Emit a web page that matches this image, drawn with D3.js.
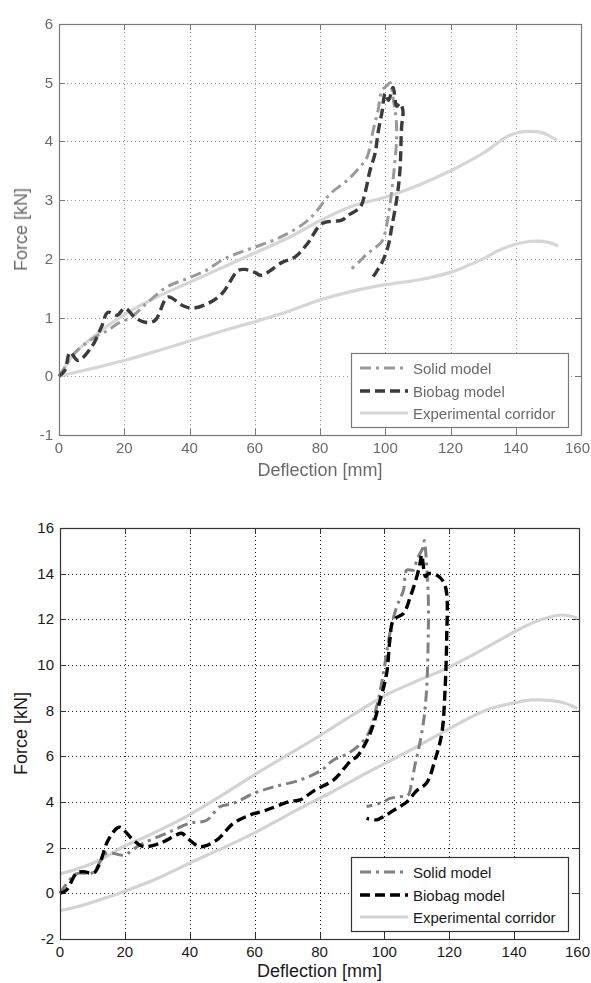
<!DOCTYPE html>
<html>
<head>
<meta charset="utf-8">
<script src="https://cdnjs.cloudflare.com/ajax/libs/d3/7.8.5/d3.min.js"></script>
<style>
  html, body { margin: 0; padding: 0; background: #fff; }
  svg { display: block; font-family: "Liberation Sans", Arial, sans-serif; }
</style>
</head>
<body>
<div id="chart"></div>
<script>
// ---------------- data ----------------
const xTicks = [0, 20, 40, 60, 80, 100, 120, 140, 160];
const topYTicks = [-1, 0, 1, 2, 3, 4, 5, 6];
const bottomYTicks = [-2, 0, 2, 4, 6, 8, 10, 12, 14, 16];
const legendLabels = ['Solid model', 'Biobag model', 'Experimental corridor'];

// top panel
const topSolidX = [0, 1.8, 4, 8, 12, 15, 18, 22, 27, 33, 39.5, 45, 50, 55, 60, 65, 70, 75, 78.5, 83, 88.6, 92, 94.4, 96.3, 97.8, 99, 100.5, 101.5, 102.5, 103.3, 103.5, 103, 102.3, 101.5, 100.5, 99, 96, 94.7, 92, 89];
const topSolidF = [0, 0.15, 0.35, 0.55, 0.7, 0.78, 0.9, 1.0, 1.25, 1.52, 1.67, 1.8, 1.98, 2.1, 2.2, 2.3, 2.43, 2.6, 2.78, 3.1, 3.35, 3.55, 3.73, 4.19, 4.53, 4.87, 4.95, 5.0, 4.7, 4.4, 4.07, 3.68, 3.3, 2.95, 2.6, 2.3, 2.15, 2.1, 1.95, 1.8];
const topBiobagX = [0, 1.8, 3.4, 5.8, 10, 13, 15, 17.8, 20.2, 23.3, 26.4, 29.4, 33.4, 37.7, 40.8, 45.7, 50, 54.9, 57, 60, 62, 68.4, 72.3, 76.3, 80.6, 86.7, 88.6, 92.3, 93.8, 95.3, 96.9, 97.8, 99, 100, 101, 102.4, 103.5, 104.5, 105.4, 105, 104.5, 103.6, 102, 100.8, 99, 96];
const topBiobagF = [0, 0.1, 0.41, 0.27, 0.5, 0.84, 1.09, 1.04, 1.16, 1.0, 0.92, 0.95, 1.35, 1.21, 1.16, 1.24, 1.41, 1.8, 1.82, 1.77, 1.72, 1.94, 2.03, 2.27, 2.6, 2.66, 2.74, 2.88, 3.12, 3.5, 3.8, 4.15, 4.5, 4.82, 4.7, 4.92, 4.6, 4.65, 4.53, 4.24, 3.5, 3.05, 2.54, 2.2, 1.94, 1.67];
const topUpperX = [0, 5, 10, 20, 30, 40, 50, 60, 70, 80, 90, 100, 110, 120, 130, 138, 143.5, 148, 152.6];
const topUpperF = [0, 0.4, 0.65, 1.05, 1.35, 1.6, 1.85, 2.1, 2.35, 2.65, 2.9, 3.05, 3.25, 3.5, 3.8, 4.1, 4.17, 4.15, 4.02];
const topLowerX = [0, 10, 20, 30, 40, 50, 60, 70, 80, 90, 100, 110, 120, 125, 130, 135, 140, 145, 150, 153];
const topLowerF = [0, 0.13, 0.27, 0.43, 0.6, 0.77, 0.93, 1.1, 1.3, 1.45, 1.56, 1.64, 1.77, 1.88, 2.0, 2.15, 2.25, 2.3, 2.28, 2.22];

// bottom panel
const botSolidX = [0, 5, 10, 14.4, 19.7, 24.7, 32.9, 40, 45.2, 49.3, 53.4, 59.8, 65.8, 74, 80.7, 84.3, 88.9, 94.5, 97.6, 99.7, 101.7, 103.8, 105.9, 106.9, 109, 110, 112, 112.3, 113.5, 113.5, 113, 112, 110.5, 109.4, 108.4, 107.3, 104.8, 101.7, 99.7, 94.5];
const botSolidF = [0, 0.85, 0.9, 1.76, 1.68, 2.12, 2.63, 3.07, 3.2, 3.79, 3.94, 4.38, 4.66, 4.96, 5.4, 5.84, 6.13, 6.86, 8.17, 9.64, 11.39, 12.55, 13.28, 14.16, 14.16, 14.6, 15.18, 15.45, 13.14, 11.1, 8.9, 7.45, 6.28, 5.6, 4.83, 4.3, 4.23, 4.16, 4.0, 3.8];
const botBiobagX = [0, 2, 5.1, 7.2, 10.3, 12.3, 14.4, 16, 17.5, 18.5, 19.7, 22.6, 25.7, 30.8, 35.9, 37.5, 40, 43.2, 48.3, 53.4, 58.6, 63.7, 70.9, 74, 78.6, 84.3, 89.9, 91.5, 95.6, 98.7, 100.7, 101.7, 102.8, 105.9, 108, 110, 111, 111.5, 112.7, 113.6, 116.1, 118.2, 119.2, 119.2, 118.7, 117.7, 115.6, 113, 110, 106.9, 103.8, 100.2, 97.6, 94.5];
const botBiobagF = [0, 0.15, 0.88, 0.95, 0.88, 1.33, 2.2, 2.6, 2.85, 2.9, 2.77, 2.33, 2.05, 2.19, 2.56, 2.63, 2.33, 2.04, 2.33, 3.06, 3.43, 3.65, 4.02, 4.09, 4.52, 4.96, 5.84, 5.98, 7.0, 8.47, 9.63, 11.1, 11.97, 12.26, 12.99, 13.87, 14.45, 14.82, 13.87, 14.0, 13.94, 13.65, 13.14, 11.1, 8.9, 7.0, 5.84, 4.83, 4.5, 4.0, 3.72, 3.4, 3.22, 3.28];
const botUpperX = [0, 5, 12.3, 19.7, 26, 32.9, 40, 50, 60, 70, 80, 91, 100, 110, 119.2, 128, 135.6, 142, 148, 155, 159.5];
const botUpperF = [0.85, 1.05, 1.46, 2.05, 2.45, 2.92, 3.45, 4.3, 5.2, 6.05, 6.9, 7.88, 8.65, 9.3, 9.85, 10.5, 11.1, 11.6, 11.97, 12.19, 12.05];
const botLowerX = [0, 5, 12.3, 19.7, 30, 40, 50, 59.8, 74, 84, 94.5, 110, 119.2, 131.5, 139.7, 145.8, 154, 159.5];
const botLowerF = [-0.75, -0.6, -0.28, 0.08, 0.65, 1.33, 1.97, 2.64, 3.72, 4.45, 5.27, 6.42, 7.15, 8.03, 8.33, 8.47, 8.39, 8.1];

// ---------------- layout ----------------
const W = 591, H = 983;
const svg = d3.select('#chart').append('svg').attr('width', W).attr('height', H);

const defs = svg.append('defs');
defs.append('filter').attr('id', 'soft')
  .attr('x', '-5%').attr('y', '-5%').attr('width', '110%').attr('height', '110%')
  .append('feGaussianBlur').attr('stdDeviation', 0.6);

function zip(xs, ys){ return xs.map((x, i) => [x, ys[i]]); }

function drawPanel(cfg){
  const g = svg.append('g');
  if (cfg.blur) g.attr('filter', 'url(#soft)');

  const x = d3.scaleLinear().domain([0, 160]).range([cfg.left, cfg.right]);
  const y = d3.scaleLinear().domain(cfg.yDomain).range([cfg.bottom, cfg.top]);

  // background
  g.append('rect')
    .attr('x', cfg.left).attr('y', cfg.top)
    .attr('width', cfg.right - cfg.left).attr('height', cfg.bottom - cfg.top)
    .attr('fill', '#fff');

  // grid
  const grid = g.append('g').attr('stroke', cfg.gridColor).attr('stroke-width', 1).attr('stroke-dasharray', '1,3');
  grid.selectAll('.gx').data(xTicks.slice(1, -1)).enter().append('line')
    .attr('x1', d => Math.round(x(d)) + 0.5).attr('x2', d => Math.round(x(d)) + 0.5)
    .attr('y1', cfg.top).attr('y2', cfg.bottom);
  grid.selectAll('.gy').data(cfg.yTicks.slice(1, -1)).enter().append('line')
    .attr('y1', d => Math.round(y(d)) + 0.5).attr('y2', d => Math.round(y(d)) + 0.5)
    .attr('x1', cfg.left).attr('x2', cfg.right);

  // inward ticks on all four sides (matlab box)
  const ticks = g.append('g').attr('stroke', cfg.axisColor).attr('stroke-width', 1);
  xTicks.forEach(d => {
    const px = Math.round(x(d)) + 0.5;
    ticks.append('line').attr('x1', px).attr('x2', px).attr('y1', cfg.bottom).attr('y2', cfg.bottom - 6);
    ticks.append('line').attr('x1', px).attr('x2', px).attr('y1', cfg.top).attr('y2', cfg.top + 6);
  });
  cfg.yTicks.forEach(d => {
    const py = Math.round(y(d)) + 0.5;
    ticks.append('line').attr('y1', py).attr('y2', py).attr('x1', cfg.left).attr('x2', cfg.left + 6);
    ticks.append('line').attr('y1', py).attr('y2', py).attr('x1', cfg.right).attr('x2', cfg.right - 6);
  });

  // tick labels (last one kept inside the page)
  g.append('g').selectAll('text').data(xTicks).enter().append('text')
    .attr('x', d => d === 160 ? W - 1 : x(d)).attr('y', cfg.bottom + 18)
    .attr('text-anchor', d => d === 160 ? 'end' : 'middle')
    .attr('font-size', 15).attr('fill', cfg.textColor)
    .text(d => d);
  g.append('g').selectAll('text').data(cfg.yTicks).enter().append('text')
    .attr('x', cfg.left - 6).attr('y', d => y(d) + 5)
    .attr('text-anchor', 'end').attr('font-size', 15).attr('fill', cfg.textColor)
    .text(d => d);

  // axis titles
  g.append('text')
    .attr('x', (cfg.left + cfg.right) / 2).attr('y', cfg.bottom + cfg.xTitleGap)
    .attr('text-anchor', 'middle').attr('font-size', 18).attr('fill', cfg.textColor)
    .text('Deflection [mm]');
  g.append('text')
    .attr('transform', 'translate(27,' + ((cfg.top + cfg.bottom) / 2) + ') rotate(-90)')
    .attr('text-anchor', 'middle').attr('font-size', 18).attr('fill', cfg.textColor)
    .text('Force [kN]');

  // curves
  const line = d3.line().x(d => x(d[0])).y(d => y(d[1])).curve(d3.curveCatmullRom.alpha(0.5));
  const lines = g.append('g').attr('fill', 'none').attr('stroke-linejoin', 'round');
  [cfg.upper, cfg.lower].forEach(s => {
    lines.append('path').datum(s).attr('d', line)
      .attr('stroke', cfg.corridorColor).attr('stroke-width', 3.2);
  });
  lines.append('path').datum(cfg.solid).attr('d', line)
    .attr('stroke', cfg.solidColor).attr('stroke-width', 3)
    .attr('stroke-dasharray', '11,5,3,5');
  lines.append('path').datum(cfg.biobag).attr('d', line)
    .attr('stroke', cfg.biobagColor).attr('stroke-width', 3.4)
    .attr('stroke-dasharray', '10,5');

  // frame
  g.append('rect')
    .attr('x', cfg.left + 0.5).attr('y', cfg.top + 0.5)
    .attr('width', cfg.right - cfg.left).attr('height', cfg.bottom - cfg.top)
    .attr('fill', 'none').attr('stroke', cfg.axisColor).attr('stroke-width', 1.2);

  // legend
  const lg = g.append('g').attr('transform', 'translate(' + cfg.legend.x + ',' + cfg.legend.y + ')');
  lg.append('rect').attr('x', 0.5).attr('y', 0.5).attr('width', 217).attr('height', 74)
    .attr('fill', '#fff').attr('stroke', cfg.axisColor).attr('stroke-width', 1.2);
  const styles = [
    { stroke: cfg.solidColor, dash: '11,5,3,5', w: 3 },
    { stroke: cfg.biobagColor, dash: '10,5', w: 3.4 },
    { stroke: cfg.corridorColor, dash: null, w: 3.2 }
  ];
  const rowY = [15, 38, 60];
  legendLabels.forEach((lab, i) => {
    lg.append('line').attr('x1', 9).attr('x2', 57).attr('y1', rowY[i]).attr('y2', rowY[i])
      .attr('stroke', styles[i].stroke).attr('stroke-width', styles[i].w)
      .attr('stroke-dasharray', styles[i].dash);
    lg.append('text').attr('x', 62).attr('y', rowY[i] + 5.5)
      .attr('font-size', 15).attr('fill', cfg.textColor).text(lab);
  });
}

drawPanel({
  left: 59, right: 581, top: 24, bottom: 435, xTitleGap: 41,
  yDomain: [-1, 6], yTicks: topYTicks, blur: true,
  axisColor: '#7a7a7a', gridColor: '#9a9a9a', textColor: '#6a6a6a',
  solidColor: '#9a9a9a', biobagColor: '#3a3a3a', corridorColor: '#d6d6d6',
  solid: zip(topSolidX, topSolidF), biobag: zip(topBiobagX, topBiobagF),
  upper: zip(topUpperX, topUpperF), lower: zip(topLowerX, topLowerF),
  legend: { x: 351, y: 353 }
});

drawPanel({
  left: 60, right: 579, top: 528, bottom: 939, xTitleGap: 38,
  yDomain: [-2, 16], yTicks: bottomYTicks, blur: false,
  axisColor: '#333', gridColor: '#222', textColor: '#1a1a1a',
  solidColor: '#808080', biobagColor: '#000', corridorColor: '#d3d3d3',
  solid: zip(botSolidX, botSolidF), biobag: zip(botBiobagX, botBiobagF),
  upper: zip(botUpperX, botUpperF), lower: zip(botLowerX, botLowerF),
  legend: { x: 351, y: 857 }
});
</script>
</body>
</html>
